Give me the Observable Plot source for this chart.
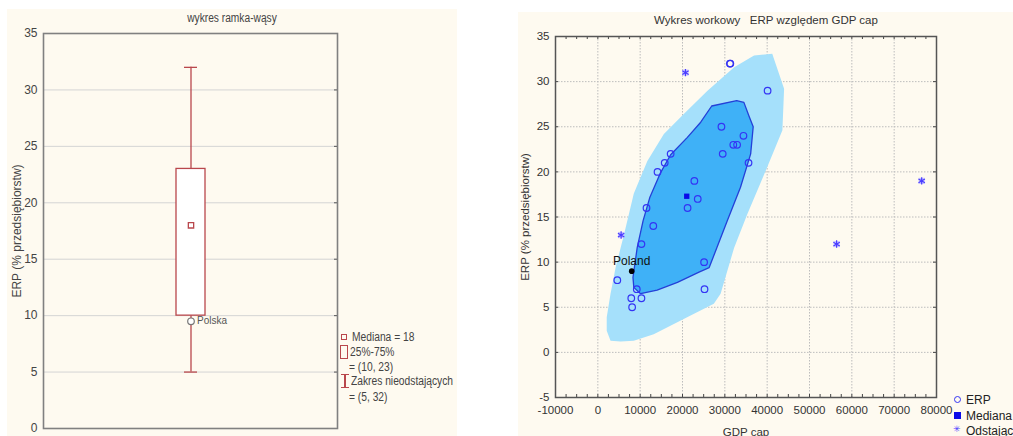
<!DOCTYPE html>
<html><head><meta charset="utf-8">
<script src="https://cdn.jsdelivr.net/npm/d3@7"></script>
<script src="https://cdn.jsdelivr.net/npm/@observablehq/plot@0.6"></script>
<style>
body{margin:0;background:#fff;width:1013px;height:436px;overflow:hidden;position:relative;font-family:"Liberation Sans",Arial,sans-serif;}
.panel{position:absolute;background:#fefaf0;overflow:hidden;}
.abs{position:absolute;white-space:nowrap;line-height:1;}
.narrow{transform-origin:0 50%;}
</style></head><body>
<div id="left" class="panel" style="left:7px;top:9px;width:450px;height:427px"></div>
<div id="right" class="panel" style="left:518px;top:12px;width:495px;height:424px"></div>
<div id="overlay"></div>
<script>
// ---------- LEFT PANEL DATA (box-and-whisker) ----------
const boxCategory = ["ERP"];
const boxQ1 = [10];
const boxQ3 = [23];
const boxLow = [5];
const boxHigh = [32];
const boxMedian = [18];
const polskaLabel = ["Polska"];
const polskaValue = [9.5];
const leftYTicks = [0, 5, 10, 15, 20, 25, 30, 35];
const leftGrid = [5, 10, 15, 20, 25, 30];

// ---------- RIGHT PANEL DATA (bag plot) ----------
const gdpCap = [31200, 31300, 40100, 29200, 34400, 32000, 32900, 29500, 17200, 15800, 35600, 14100, 22800, 23600, 21200, 11500, 13100, 10300, 25100, 4600, 9200, 25200, 7900, 10300, 8100];
const erpValues = [32, 32, 29, 25, 24, 23, 23, 22, 22, 21, 21, 20, 19, 17, 16, 16, 14, 12, 10, 8, 7, 7, 6, 6, 5];
const polandGdp = [8000];
const polandErp = [9];
const polandLabel = ["Poland"];
const medianGdp = [21000];
const medianErp = [17.3];
const outlierGdp = [20700, 5500, 56400, 76500];
const outlierErp = [31, 13, 12, 19];
const bagGdp = [26900, 32800, 34500, 35700, 36700, 36100, 33700, 30600, 26300, 23900, 18800, 14000, 10100, 8500, 8300, 9300, 10700, 12300, 14700, 17200, 21100, 24300, 26900];
const bagErp = [27.3, 27.9, 27.7, 26.2, 25.0, 22.0, 18.3, 14.6, 9.4, 8.9, 7.75, 6.9, 6.5, 7.2, 8.3, 11.6, 14.6, 17.2, 19.8, 21.9, 23.8, 25.5, 27.3];
const fenceGdp = [3000, 2100, 2100, 3000, 4200, 6200, 8500, 11700, 15600, 20300, 25900, 32200, 36900, 41200, 44000, 43600, 40000, 35300, 32200, 29000, 27400, 21100, 13200, 8500, 5400];
const fenceErp = [1.3, 2.4, 3.9, 6.5, 9.4, 13.1, 17.6, 21.2, 24.2, 26.4, 29.0, 31.6, 32.9, 33.1, 29.2, 24.6, 20.5, 15.3, 11.6, 6.5, 5.4, 3.9, 2.0, 1.3, 1.2];
const rightXTicks = [-10000, 0, 10000, 20000, 30000, 40000, 50000, 60000, 70000, 80000];
const rightXMinor = d3.range(-10000, 80001, 2500);
const rightYTicks = [-5, 0, 5, 10, 15, 20, 25, 30, 35];

// ---------- LEFT PLOT ----------
const red = "#b9474c";
const boxRows = boxCategory.map((c, i) => ({cat: c, q1: boxQ1[i], q3: boxQ3[i], lo: boxLow[i], hi: boxHigh[i], med: boxMedian[i], pv: polskaValue[i], pl: polskaLabel[i]}));
const L = {w: 450, h: 427, ml: 36, mr: 120, mt: 24, mb: 8};
const leftPlot = Plot.plot({
  width: L.w, height: L.h, marginLeft: L.ml, marginRight: L.mr, marginTop: L.mt, marginBottom: L.mb,
  style: {background: "transparent", fontFamily: "'Liberation Sans',Arial,sans-serif", fontSize: "12px", color: "#444"},
  x: {type: "band", domain: boxCategory, padding: 0.82, axis: null},
  y: {domain: [0, 35], ticks: leftYTicks, tickSize: 0, tickPadding: 6, label: "ERP (% przedsiębiorstw)", labelAnchor: "center", labelOffset: 31, labelArrow: "none"},
  marks: [
    Plot.gridY(leftGrid, {stroke: "#d4d4d4", strokeOpacity: 1}),
    Plot.tickY(leftYTicks, {y: d => d, insetLeft: L.w - L.ml - L.mr - 3, stroke: "#555"}),
    Plot.ruleX(boxRows, {x: "cat", y1: "lo", y2: "q1", stroke: red, strokeWidth: 1.3}),
    Plot.ruleX(boxRows, {x: "cat", y1: "q3", y2: "hi", stroke: red, strokeWidth: 1.3}),
    Plot.tickY(boxRows, {x: "cat", y: "lo", stroke: red, strokeWidth: 1.3, inset: 8}),
    Plot.tickY(boxRows, {x: "cat", y: "hi", stroke: red, strokeWidth: 1.3, inset: 8}),
    Plot.barY(boxRows, {x: "cat", y1: "q1", y2: "q3", fill: "white", stroke: red, strokeWidth: 1.3}),
    Plot.dot(boxRows, {x: "cat", y: "med", symbol: "square", r: 3, stroke: red, strokeWidth: 1.3, fill: "white"}),
    Plot.dot(boxRows, {x: "cat", y: "pv", r: 3.3, stroke: "#777", strokeWidth: 1.2, fill: "white"}),
    Plot.text(boxRows, {x: "cat", y: "pv", text: "pl", dx: 6, textAnchor: "start", fill: "#555", fontSize: 10}),
    Plot.frame({stroke: "#808080", strokeWidth: 1.6})
  ]
});
document.getElementById("left").appendChild(leftPlot);

// ---------- RIGHT PLOT ----------
const pts = gdpCap.map((g, i) => ({g, e: erpValues[i]}));
const bag = bagGdp.map((g, i) => ({g, e: bagErp[i]}));
const fence = fenceGdp.map((g, i) => ({g, e: fenceErp[i]}));
const outl = outlierGdp.map((g, i) => ({g, e: outlierErp[i]}));
const med = medianGdp.map((g, i) => ({g, e: medianErp[i]}));
const pol = polandGdp.map((g, i) => ({g, e: polandErp[i], t: polandLabel[i]}));
const R = {w: 495, h: 424, ml: 37, mr: 77, mt: 24, mb: 39};
const fw = R.w - R.ml - R.mr, fh = R.h - R.mt - R.mb;
const blue = "#3434f4";
const rightPlot = Plot.plot({
  width: R.w, height: R.h, marginLeft: R.ml, marginRight: R.mr, marginTop: R.mt, marginBottom: R.mb,
  style: {background: "transparent", fontFamily: "'Liberation Sans',Arial,sans-serif", fontSize: "11.5px", color: "#333"},
  x: {domain: [-10000, 80000], ticks: rightXTicks, tickFormat: d => String(d), tickSize: 0, tickPadding: 8, label: "GDP cap", labelAnchor: "center", labelOffset: 38, labelArrow: "none"},
  y: {domain: [-5, 35], ticks: rightYTicks, tickFormat: d => String(d), tickSize: 0, tickPadding: 6, label: "ERP (% przedsiębiorstw)", labelAnchor: "center", labelOffset: 35, labelArrow: "none"},
  marks: [
    Plot.gridX(rightXTicks, {stroke: "#bdbdbd", strokeOpacity: 1, strokeDasharray: "1.5,1.5"}),
    Plot.gridY(rightYTicks, {stroke: "#bdbdbd", strokeOpacity: 1, strokeDasharray: "1.5,1.5"}),
    Plot.line(fence, {x: "g", y: "e", fill: "#a5e0fb", stroke: "none"}),
    Plot.line(bag, {x: "g", y: "e", fill: "#3fb1f7", stroke: "#2440d8", strokeWidth: 1.3}),
    Plot.dot(pts, {x: "g", y: "e", r: 3.3, stroke: blue, strokeWidth: 1.2, fill: "none"}),
    Plot.dot(outl, {x: "g", y: "e", symbol: "square", r: 3.5, fill: "#c9c6ff", stroke: "none"}),
    Plot.dot(outl, {x: "g", y: "e", symbol: "asterisk", r: 3.5, stroke: "#4a3cff", strokeWidth: 1.2}),
    Plot.dot(med, {x: "g", y: "e", symbol: "square", r: 3, fill: "#0a0ae8", stroke: "none"}),
    Plot.dot(pol, {x: "g", y: "e", r: 2.8, fill: "#000", stroke: "none"}),
    Plot.text(pol, {x: "g", y: "e", text: "t", dy: -10, fill: "#111", fontSize: 12}),
    Plot.tickX(rightXMinor, {x: d => d, insetTop: fh - 3, stroke: "#444"}),
    Plot.tickX(rightXMinor, {x: d => d, insetBottom: fh - 3, stroke: "#444"}),
    Plot.tickY(rightYTicks, {y: d => d, insetLeft: fw - 3, stroke: "#444"}),
    Plot.tickY(rightYTicks, {y: d => d, insetRight: fw - 3, stroke: "#444"}),
    Plot.frame({stroke: "#555", strokeWidth: 1.5})
  ]
});
document.getElementById("right").appendChild(rightPlot);

// ---------- TITLES & LEGENDS (HTML) ----------
const ov = document.getElementById("overlay");
function addText(txt, left, top, cls, extra) {
  const d = document.createElement("div");
  d.className = "abs " + (cls || "");
  d.textContent = txt;
  d.style.left = left + "px"; d.style.top = top + "px";
  Object.assign(d.style, extra || {});
  ov.appendChild(d);
  return d;
}
function addBox(left, top, w, h, css) {
  const d = document.createElement("div");
  d.className = "abs";
  d.style.left = left + "px"; d.style.top = top + "px";
  d.style.width = w + "px"; d.style.height = h + "px";
  d.style.boxSizing = "border-box";
  Object.assign(d.style, css);
  ov.appendChild(d);
}
// left title
addText("wykres ramka-wąsy", 232, 12, "", {fontSize: "12px", color: "#444", transform: "translateX(-50%) scaleX(0.85)"});
// right title
addText("Wykres workowy   ERP względem GDP cap", 766, 15, "", {fontSize: "11.5px", color: "#333", transform: "translateX(-50%)", whiteSpace: "pre"});

// left legend
const lgStyle = {fontSize: "12.5px", color: "#444", transform: "scaleX(0.82)"};
addBox(341, 334, 6, 6, {border: "1.2px solid " + red});
addText("Mediana = 18", 352, 331, "narrow", lgStyle);
addBox(340, 345, 8, 14, {border: "1.2px solid " + red});
addText("25%-75%", 350, 346, "narrow", lgStyle);
addText("= (10, 23)", 349, 361, "narrow", lgStyle);
addBox(341, 374, 8, 1.4, {background: red});
addBox(344.3, 374, 1.4, 14, {background: red});
addBox(341, 387, 8, 1.4, {background: red});
addText("Zakres nieodstających", 351, 375, "narrow", lgStyle);
addText("= (5, 32)", 349, 391, "narrow", lgStyle);

// right legend
const rg = {fontSize: "12px", color: "#222"};
addBox(954, 396, 7, 7, {border: "1.2px solid " + blue, borderRadius: "50%"});
addText("ERP", 966, 394, "", rg);
addBox(954, 412, 7, 7, {background: "#0a0ae8"});
addText("Mediana", 966, 410, "", rg);
addText("✳", 953, 425, "", {fontSize: "9px", color: "#4a3cff"});
addText("Odstające", 966, 425, "", rg);
</script>
</body></html>
